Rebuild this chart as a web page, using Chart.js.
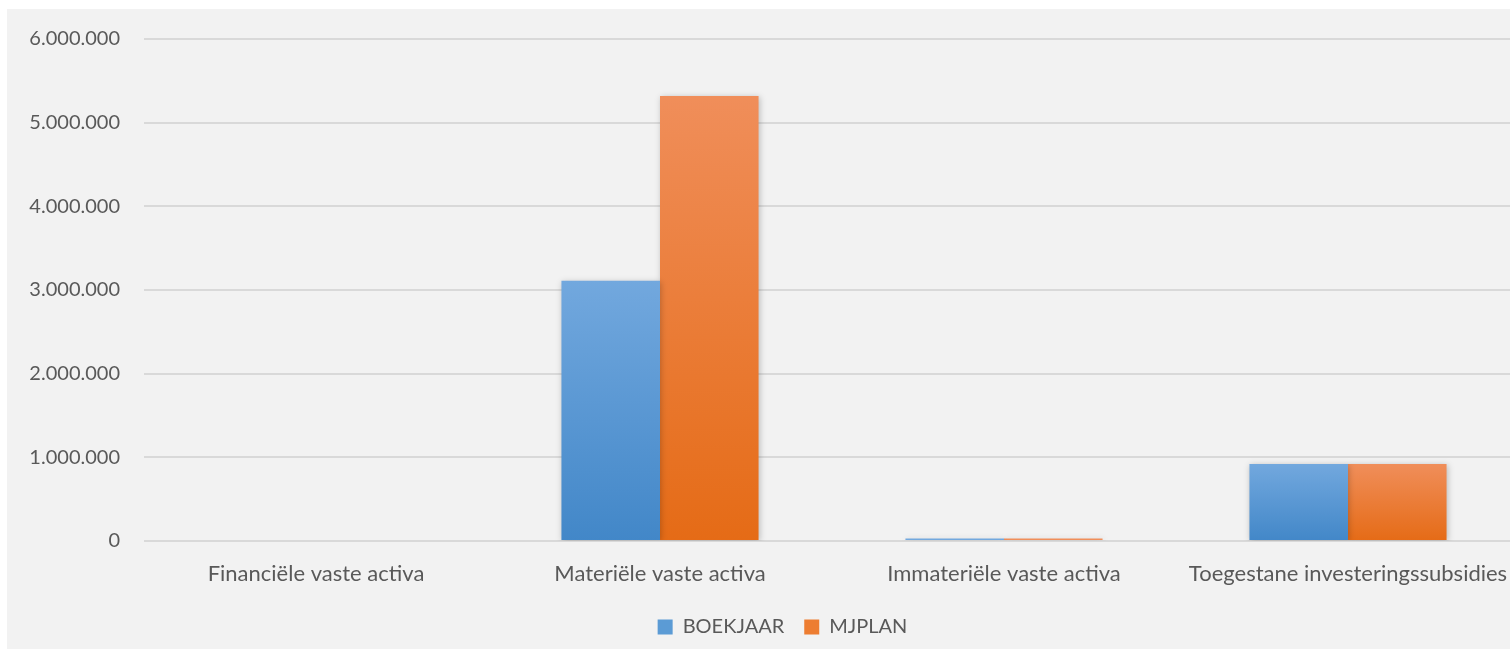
<!DOCTYPE html>
<html lang="nl">
<head>
<meta charset="UTF-8">
<title>Investeringen</title>
<script src="https://cdn.jsdelivr.net/npm/chart.js"></script>
<style>
    html, body {
        margin: 0;
        padding: 0;
        background: #ffffff;
        overflow: hidden;
    }
    .chart-box {
        position: absolute;
        left: 7px;
        top: 9px;
        width: 1550px;
        height: 660px;
        background: #f2f2f2;
    }
</style>
</head>
<body>
<div class="chart-box">
    <canvas id="activaChart"></canvas>
</div>

<script>
    // Data
    const categories = ['Financiële vaste activa', 'Materiële vaste activa', 'Immateriële vaste activa', 'Toegestane investeringssubsidies'];
    const boekjaar = [0, 3110000, 30000, 920000];
    const mjplan = [0, 5320000, 30000, 920000];
    const yTicks = [0, 1000000, 2000000, 3000000, 4000000, 5000000, 6000000];

    const textColor = '#595959';
    const fontFamily = 'Lato, "Open Sans", sans-serif';

    function formatNL(v) {
        return String(v).replace(/\B(?=(\d{3})+(?!\d))/g, '.');
    }

    // vertical gradient per bar, light at the top, darker at the base
    function barGradient(top, bottom) {
        return function (context) {
            const chart = context.chart;
            const y = chart.scales.y;
            if (!y || context.parsed === undefined) return top;
            const y0 = y.getPixelForValue(0);
            const y1 = y.getPixelForValue(context.parsed.y);
            if (Math.abs(y0 - y1) < 4) return top;
            const g = chart.ctx.createLinearGradient(0, y1, 0, y0);
            g.addColorStop(0, top);
            g.addColorStop(1, bottom);
            return g;
        };
    }

    // soft shadow under the bars
    const barShadow = {
        id: 'barShadow',
        beforeDatasetsDraw(chart) {
            const ctx = chart.ctx;
            ctx.save();
            ctx.shadowColor = 'rgba(0, 0, 0, 0.22)';
            ctx.shadowBlur = 6;
            ctx.shadowOffsetX = 1;
            ctx.shadowOffsetY = 1;
        },
        afterDatasetsDraw(chart) {
            chart.ctx.restore();
        }
    };

    // nudge the legend a bit to the right
    const legendShift = {
        id: 'legendShift',
        afterLayout(chart) {
            if (!chart.legend) return;
            chart.legend.left += 19;
            chart.legend.right += 19;
        }
    };

    const ctx = document.getElementById('activaChart').getContext('2d');
    new Chart(ctx, {
        type: 'bar',
        data: {
            labels: categories,
            datasets: [{
                label: 'BOEKJAAR',
                data: boekjaar,
                backgroundColor: barGradient('#72a8de', '#4287c8'),
                borderWidth: 0
            }, {
                label: 'MJPLAN',
                data: mjplan,
                backgroundColor: barGradient('#f08e5a', '#e56b16'),
                borderWidth: 0
            }]
        },
        options: {
            responsive: true,
            maintainAspectRatio: false,
            animation: false,
            layout: {
                padding: { top: 30, right: 37, bottom: 22, left: 0 }
            },
            datasets: {
                bar: {
                    categoryPercentage: 0.573,
                    barPercentage: 1.0
                }
            },
            scales: {
                x: {
                    afterFit(scale) { scale.height = 56; },
                    grid: { display: false, drawTicks: false },
                    border: { display: false },
                    ticks: {
                        color: textColor,
                        font: { family: fontFamily, size: 22 },
                        padding: 20,
                        maxRotation: 0,
                        autoSkip: false
                    }
                },
                y: {
                    min: 0,
                    max: 6000000,
                    afterFit(scale) {
                        scale.width = 137;
                        scale.paddingTop = 0;
                        scale.paddingBottom = 0;
                    },
                    afterBuildTicks(scale) {
                        scale.ticks = yTicks.map(v => ({ value: v }));
                    },
                    grid: {
                        color: '#d9d9d9',
                        lineWidth: 2,
                        drawTicks: false
                    },
                    border: { display: false },
                    ticks: {
                        color: textColor,
                        font: { family: fontFamily, size: 20 },
                        padding: 24,
                        callback: v => formatNL(v)
                    }
                }
            },
            plugins: {
                legend: {
                    position: 'bottom',
                    labels: {
                        color: textColor,
                        font: { family: fontFamily, size: 20 },
                        boxWidth: 15,
                        boxHeight: 15,
                        padding: 20,
                        generateLabels(chart) {
                            const fills = ['#5b9bd5', '#ed7d31'];
                            return chart.data.datasets.map((ds, i) => ({
                                text: ds.label,
                                fillStyle: fills[i],
                                strokeStyle: fills[i],
                                lineWidth: 0,
                                fontColor: textColor,
                                datasetIndex: i
                            }));
                        }
                    }
                },
                tooltip: { enabled: false }
            }
        },
        plugins: [barShadow, legendShift]
    });
</script>
</body>
</html>
